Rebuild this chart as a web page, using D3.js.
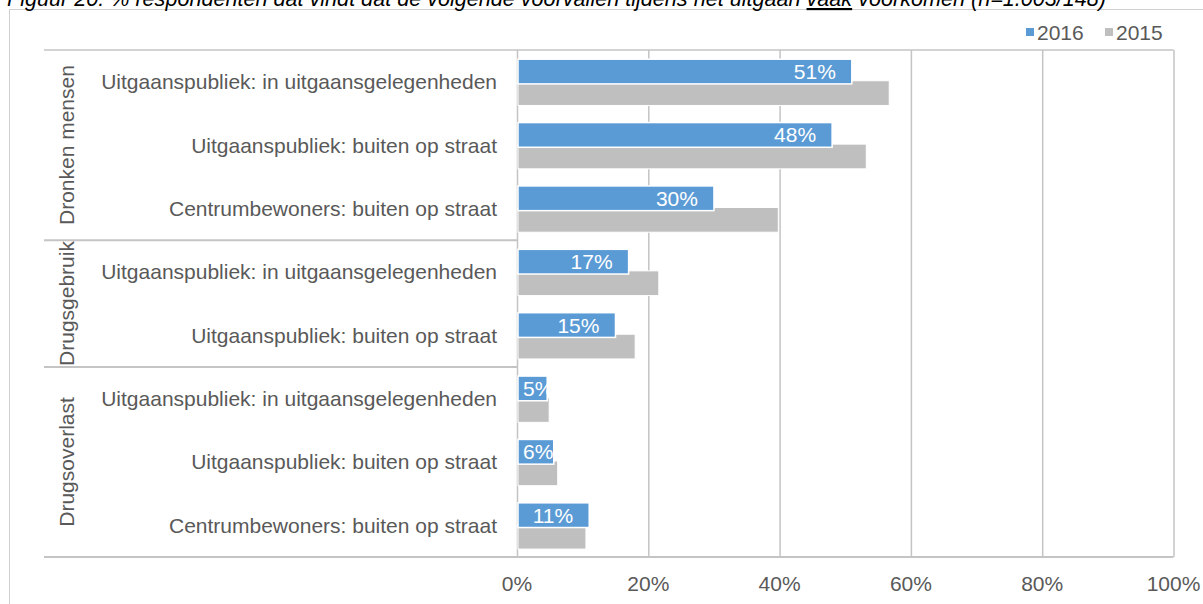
<!DOCTYPE html>
<html>
<head>
<meta charset="utf-8">
<script src="https://cdn.jsdelivr.net/npm/d3@7"></script>
<style>
  body { margin: 0; background: #fff; }
  text { font-family: "Liberation Sans", Arial, sans-serif; }
</style>
</head>
<body>
<div id="chart"></div>
<script>
// data
const groups = ["Dronken mensen", "Drugsgebruik", "Drugsoverlast"]
const groupOf = [0, 0, 0, 1, 1, 2, 2, 2]
const categories = [
  "Uitgaanspubliek: in uitgaansgelegenheden",
  "Uitgaanspubliek: buiten op straat",
  "Centrumbewoners: buiten op straat",
  "Uitgaanspubliek: in uitgaansgelegenheden",
  "Uitgaanspubliek: buiten op straat",
  "Uitgaanspubliek: in uitgaansgelegenheden",
  "Uitgaanspubliek: buiten op straat",
  "Centrumbewoners: buiten op straat"
]
const years = ["2016", "2015"]
const values2016 = [51, 48, 30, 17, 15, 4.6, 5.6, 11]
const values2015 = [56.7, 53.2, 39.8, 21.6, 18, 4.9, 6.2, 10.5]
const xTicks = [0, 20, 40, 60, 80, 100]
const colors = { "2016": "#5b9bd5", "2015": "#bfbfbf" }

const width = 1203, height = 604
const fs = 21
const svg = d3.select("#chart").append("svg")
  .attr("width", width).attr("height", height)

// outer frame + caption (cut off at the top, as in the source)
svg.append("rect").attr("x", 9.5).attr("y", 9.5).attr("width", 1210).attr("height", 620)
  .attr("fill", "none").attr("stroke", "#d0d0d0")
const cap = svg.append("text").attr("x", 7).attr("y", 6)
  .attr("font-size", 21.6).attr("font-style", "italic").attr("fill", "#000")
cap.append("tspan").text("Figuur 20: % respondenten dat vindt dat de volgende voorvallen tijdens het uitgaan ")
cap.append("tspan").attr("text-decoration", "underline").text("vaak")
cap.append("tspan").text(" voorkomen  (n=1.003/148)")

const plotLeft = 517, plotRight = 1173.5, plotTop = 50, plotBottom = 557
const labelLeft = 44

const x = d3.scaleLinear().domain([0, 100]).range([plotLeft, plotRight])
const y = d3.scaleBand().domain(d3.range(categories.length)).range([plotTop, plotBottom])
const ySeries = d3.scalePoint().domain(years).range([y.bandwidth() * 0.34, y.bandwidth() * 0.68])
const barH = y.bandwidth() * 0.39

const grid = "#c4c4c4", ink = "#595959"

// gridlines
svg.append("g").selectAll("line").data(xTicks).join("line")
  .attr("x1", d => x(d) + 0.5).attr("x2", d => x(d) + 0.5)
  .attr("y1", plotTop).attr("y2", plotBottom)
  .attr("stroke", grid).attr("stroke-width", 1.5)

// top / bottom frame of plot and group separators
const groupBounds = groups.map((g, i) => {
  const idx = d3.range(categories.length).filter(k => groupOf[k] === i)
  return { name: g, y0: y(idx[0]), y1: y(idx[idx.length - 1]) + y.bandwidth() }
})
svg.append("line").attr("x1", labelLeft).attr("x2", plotRight).attr("y1", plotTop).attr("y2", plotTop)
  .attr("stroke", grid).attr("stroke-width", 1.5)
svg.append("line").attr("x1", labelLeft).attr("x2", plotRight).attr("y1", plotBottom).attr("y2", plotBottom)
  .attr("stroke", grid).attr("stroke-width", 2)
svg.append("g").selectAll("line").data(groupBounds.slice(1)).join("line")
  .attr("x1", labelLeft).attr("x2", plotLeft).attr("y1", d => d.y0).attr("y2", d => d.y0)
  .attr("stroke", grid).attr("stroke-width", 2)

// bars: 2015 first, 2016 drawn over it
const rows = categories.map((c, i) => ({ i, c, v2016: values2016[i], v2015: values2015[i] }))
svg.append("g").selectAll("rect").data(rows).join("rect")
  .attr("x", x(0) + 1).attr("width", d => x(d.v2015) - x(0) - 1)
  .attr("y", d => y(d.i) + ySeries("2015") - barH / 2).attr("height", barH)
  .attr("fill", colors["2015"]).attr("stroke", "#fff").attr("stroke-width", 1)
svg.append("g").selectAll("rect").data(rows).join("rect")
  .attr("x", x(0) + 1).attr("width", d => x(d.v2016) - x(0) - 1)
  .attr("y", d => y(d.i) + ySeries("2016") - barH / 2).attr("height", barH)
  .attr("fill", colors["2016"]).attr("stroke", "#fff").attr("stroke-width", 1.5)

// value labels inside end of 2016 bars
svg.append("g").selectAll("text").data(rows).join("text")
  .attr("y", d => y(d.i) + ySeries("2016") + 7.5)
  .attr("font-size", fs).attr("fill", "#fff")
  .text(d => Math.round(d.v2016) + "%")
  .each(function (d) {
    const w = this.getComputedTextLength()
    this.setAttribute("x", Math.max(x(d.v2016) - 16 - w, x(0) + 6))
  })

// category labels
svg.append("g").selectAll("text").data(rows).join("text")
  .attr("x", 497).attr("y", d => y(d.i) + y.bandwidth() / 2 + 7.5)
  .attr("text-anchor", "end").attr("font-size", fs).attr("fill", ink)
  .text(d => d.c)

// group labels (rotated)
svg.append("g").selectAll("text").data(groupBounds).join("text")
  .attr("transform", d => `translate(74,${(d.y0 + d.y1) / 2}) rotate(-90)`)
  .attr("text-anchor", "middle").attr("font-size", fs).attr("fill", ink)
  .text(d => d.name)

// x axis labels
svg.append("g").selectAll("text").data(xTicks).join("text")
  .attr("x", d => x(d)).attr("y", 591)
  .attr("text-anchor", "middle").attr("font-size", fs).attr("fill", ink)
  .text(d => d + "%")

// legend
const legend = svg.append("g")
const legX = [1026, 1105]
years.forEach((yr, i) => {
  legend.append("rect").attr("x", legX[i]).attr("y", 28).attr("width", 8).attr("height", 8)
    .attr("fill", colors[yr])
  legend.append("text").attr("x", legX[i] + 11).attr("y", 40)
    .attr("font-size", fs).attr("fill", ink).text(yr)
})
</script>
</body>
</html>
